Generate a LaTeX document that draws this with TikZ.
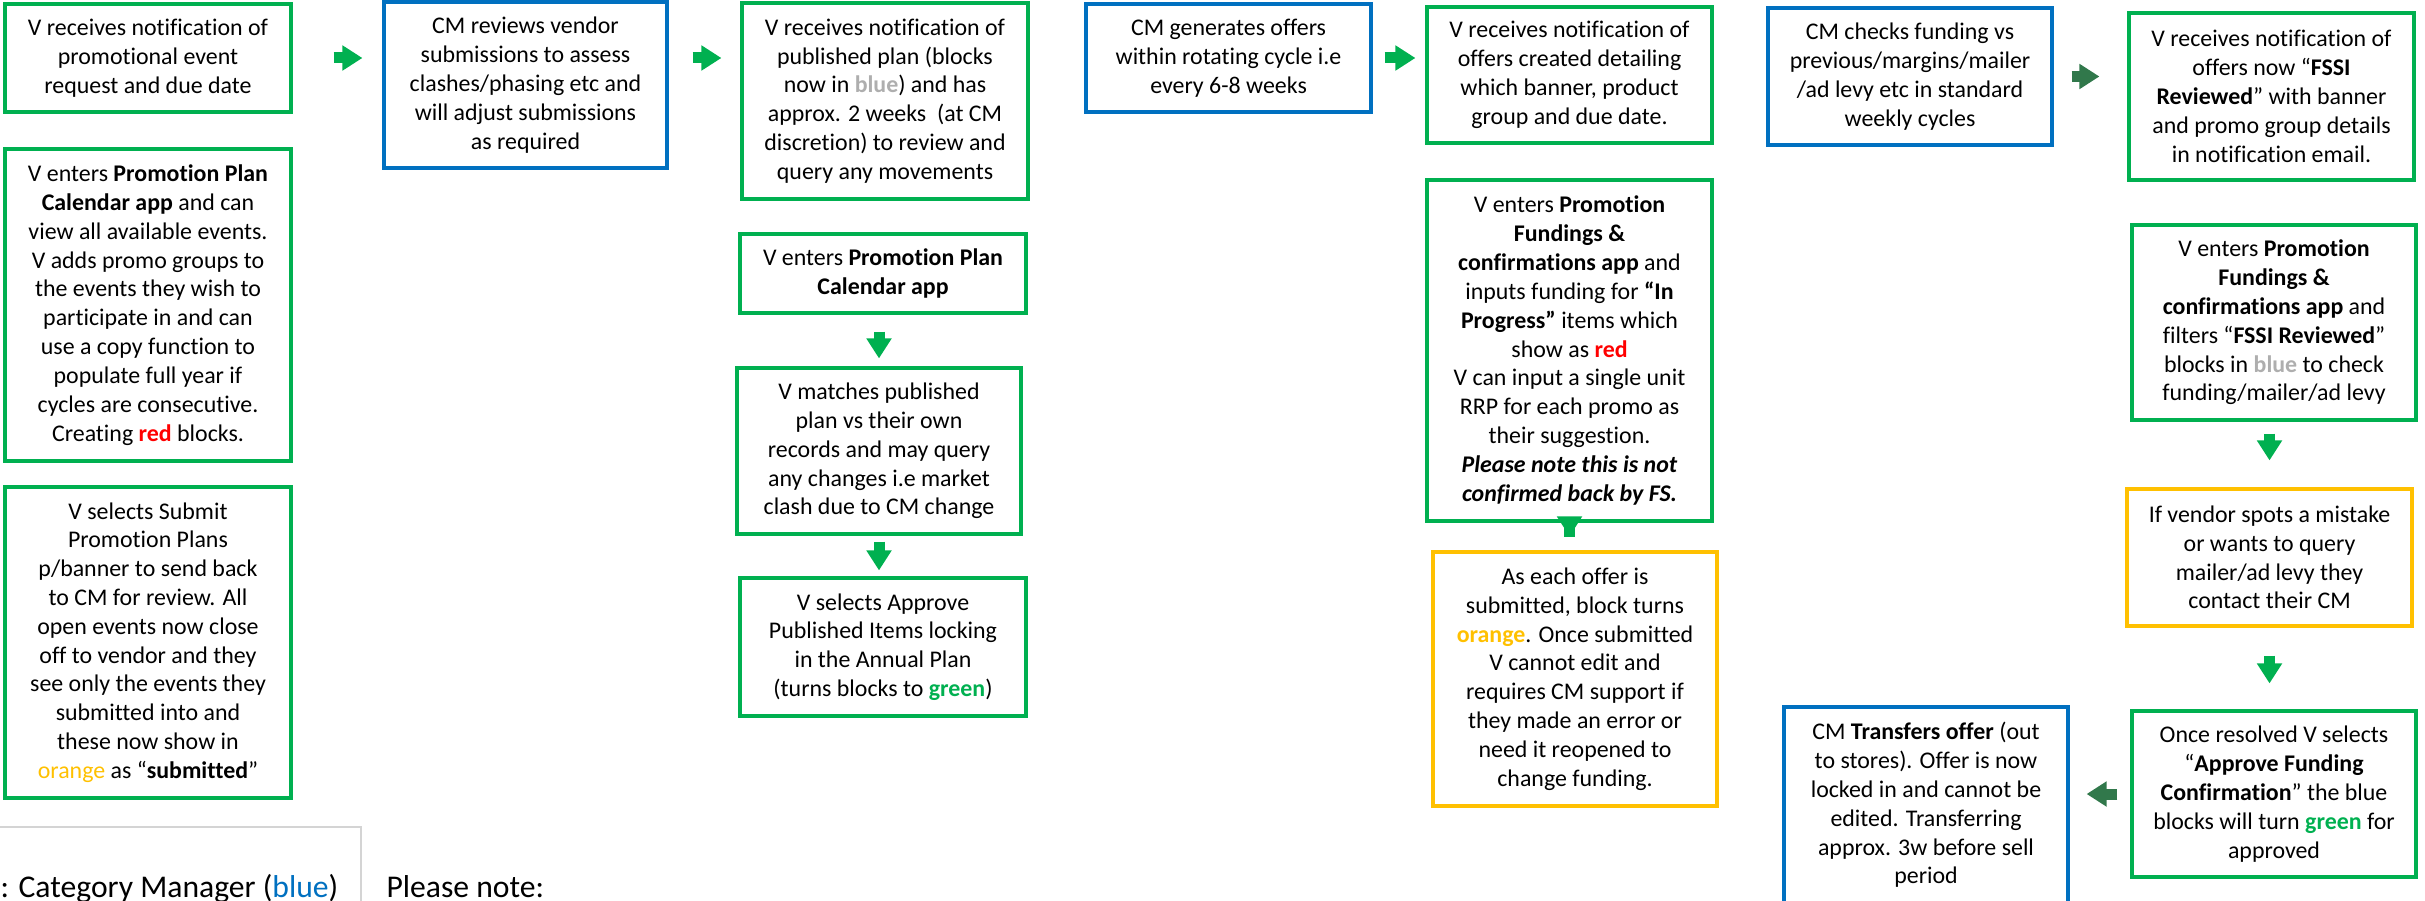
\documentclass[tikz,border=0pt]{standalone}
\usepackage{fontspec}
\setmainfont{Carlito}[Ligatures={TeX,NoCommon}]
\usetikzlibrary{arrows.meta}

\definecolor{vgreen}{HTML}{00B050}
\definecolor{cmblue}{HTML}{0070C0}
\definecolor{amber}{HTML}{FFC000}
\definecolor{planred}{HTML}{FF0000}
\definecolor{lgray}{HTML}{AEAEAE}
\definecolor{darkarrow}{HTML}{31784B}
\definecolor{keygray}{HTML}{D4D4D4}

\begin{document}
\begin{tikzpicture}[line width=0.9pt,
  basebox/.style={draw, align=center, inner sep=1pt, font=\fontsize{6.8}{8.2}\selectfont},
  vbox/.style={basebox, draw=vgreen},
  cmbox/.style={basebox, draw=cmblue},
  obox/.style={basebox, draw=amber},
  flowarrow/.style={draw=vgreen, line width=0.11cm, -{Triangle[length=0.2cm,width=0.24cm]}},
  backarrow/.style={flowarrow, draw=darkarrow}]
\useasboundingbox (0,0) rectangle (24.25,-9.01);
% vendor set-up column
\node[vbox, minimum width=2.86cm, minimum height=1.08cm] (notify) at (1.48,-0.58)
  {V receives notification of\\ promotional event\\ request and due date};
\node[vbox, minimum width=2.86cm, minimum height=3.12cm] (enter) at (1.48,-3.05)
  {V enters \textbf{Promotion Plan}\\ \textbf{Calendar app} and can\\ view all available events.\\ V adds promo groups to\\ the events they wish to\\ participate in and can\\ use a copy function to\\ populate full year if\\ cycles are consecutive.\\ Creating \textcolor{planred}{\textbf{red}} blocks.};
\node[vbox, minimum width=2.86cm, minimum height=3.11cm] (submit) at (1.48,-6.425)
  {V selects Submit\\ Promotion Plans\\ p/banner to send back\\ to CM for review. All\\ open events now close\\ off to vendor and they\\ see only the events they\\ submitted into and\\ these now show in\\ \textcolor{amber}{orange} as “\textbf{submitted}”};
% CM review
\node[cmbox, minimum width=2.83cm, minimum height=1.66cm] (review) at (5.255,-0.85)
  {CM reviews vendor\\ submissions to assess\\ clashes/phasing etc and\\ will adjust submissions\\ as required};
% published plan column
\node[vbox, minimum width=2.86cm, minimum height=1.96cm] (published) at (8.85,-1.01)
  {V receives notification of\\ published plan (blocks\\ now in \textcolor{lgray}{\textbf{blue}}) and has\\ approx. 2 weeks\ \ (at CM\\ discretion) to review and\\ query any movements};
\node[vbox, minimum width=2.86cm, minimum height=0.79cm] (enterplan) at (8.83,-2.735)
  {V enters \textbf{Promotion Plan}\\ \textbf{Calendar app}};
\node[vbox, minimum width=2.84cm, minimum height=1.66cm] (match) at (8.79,-4.51)
  {V matches published\\ plan vs their own\\ records and may query\\ any changes i.e market\\ clash due to CM change};
\node[vbox, minimum width=2.86cm, minimum height=1.38cm] (approve) at (8.83,-6.47)
  {V selects Approve\\ Published Items locking\\ in the Annual Plan\\ (turns blocks to \textcolor{vgreen}{\textbf{green}})};
% offers
\node[cmbox, minimum width=2.85cm, minimum height=1.08cm] (generate) at (12.285,-0.58)
  {CM generates offers\\ within rotating cycle i.e\\ every 6-8 weeks};
\node[vbox, minimum width=2.85cm, minimum height=1.36cm] (offers) at (15.695,-0.75)
  {V receives notification of\\ offers created detailing\\ which banner, product\\ group and due date.};
\node[vbox, minimum width=2.85cm, minimum height=3.41cm] (funding) at (15.695,-3.505)
  {V enters \textbf{Promotion}\\ \textbf{Fundings \&}\\ \textbf{confirmations app} and\\ inputs funding for \textbf{“In}\\ \textbf{Progress”} items which\\ show as \textcolor{planred}{\textbf{red}}\\ V can input a single unit\\ RRP for each promo as\\ their suggestion.\\ \textbf{\textit{Please note this is not}}\\ \textbf{\textit{confirmed back by FS.}}};
\node[obox, minimum width=2.84cm, minimum height=2.54cm] (submitted) at (15.75,-6.79)
  {As each offer is\\ submitted, block turns\\ \textcolor{amber}{\textbf{orange}}. Once submitted\\ V cannot edit and\\ requires CM support if\\ they made an error or\\ need it reopened to\\ change funding.};
% funding check
\node[cmbox, minimum width=2.84cm, minimum height=1.37cm] (check) at (19.10,-0.765)
  {CM checks funding vs\\ previous/margins/mailer\\ /ad levy etc in standard\\ weekly cycles};
\node[vbox, minimum width=2.85cm, minimum height=1.67cm] (fssi) at (22.715,-0.965)
  {V receives notification of\\ offers now “\textbf{FSSI}\\ \textbf{Reviewed}” with banner\\ and promo group details\\ in notification email.};
\node[vbox, minimum width=2.84cm, minimum height=1.95cm] (filter) at (22.74,-3.225)
  {V enters \textbf{Promotion}\\ \textbf{Fundings \&}\\ \textbf{confirmations app} and\\ filters “\textbf{FSSI Reviewed}”\\ blocks in \textcolor{lgray}{\textbf{blue}} to check\\ funding/mailer/ad levy};
\node[obox, minimum width=2.85cm, minimum height=1.37cm] (query) at (22.695,-5.575)
  {If vendor spots a mistake\\ or wants to query\\ mailer/ad levy they\\ contact their CM};
\node[vbox, minimum width=2.84cm, minimum height=1.66cm] (resolve) at (22.74,-7.94)
  {Once resolved V selects\\ “\textbf{Approve Funding}\\ \textbf{Confirmation}” the blue\\ blocks will turn \textcolor{vgreen}{\textbf{green}} for\\ approved};
\node[cmbox, minimum width=2.84cm, minimum height=1.96cm] (transfer) at (19.26,-8.05)
  {CM \textbf{Transfers offer} (out\\ to stores). Offer is now\\ locked in and cannot be\\ edited. Transferring\\ approx. 3w before sell\\ period};
% arrows
\draw[flowarrow, shorten <=0.41cm, shorten >=0.20cm] (notify.east) -- (notify.east -| review.west);
\draw[flowarrow, shorten <=0.24cm, shorten >=0.19cm] (notify.east -| review.east) -- (notify.east -| published.west);
\draw[flowarrow, shorten <=0.17cm, shorten >=0.08cm] (match.north |- enterplan.south) -- (match.north);
\draw[flowarrow, shorten <=0.06cm, shorten >=0.06cm] (match.south) -- (match.south |- approve.north);
\draw[flowarrow, shorten <=0.12cm, shorten >=0.10cm] (generate.east) -- (generate.east -| offers.west);
\draw[flowarrow, shorten <=-0.14cm, shorten >=0.14cm] (funding.south) -- (funding.south |- submitted.north);
\draw[backarrow, shorten <=0.18cm, shorten >=0.28cm] (check.east) -- (check.east -| fssi.west);
\draw[flowarrow, shorten <=0.12cm, shorten >=0.27cm] (query.north |- filter.south) -- (query.north);
\draw[flowarrow, shorten <=0.28cm, shorten >=0.26cm] (query.south) -- (query.south |- resolve.north);
\draw[backarrow, shorten <=0.13cm, shorten >=0.17cm] (resolve.west) -- (resolve.west -| transfer.east);
% key
\draw[keygray, line width=0.5pt] (-0.5,-9.5) |- (3.61,-8.27) -- (3.61,-9.5);
\node[anchor=base west, inner sep=0pt, font=\fontsize{9}{11}\selectfont] (key) at (-0.01,-8.97)
  {: Category Manager (\textcolor{cmblue}{blue})};
\node[anchor=base west, inner sep=0pt, font=\fontsize{9}{11}\selectfont] (note) at (3.85,-8.97)
  {Please note:};
\end{tikzpicture}
\end{document}
